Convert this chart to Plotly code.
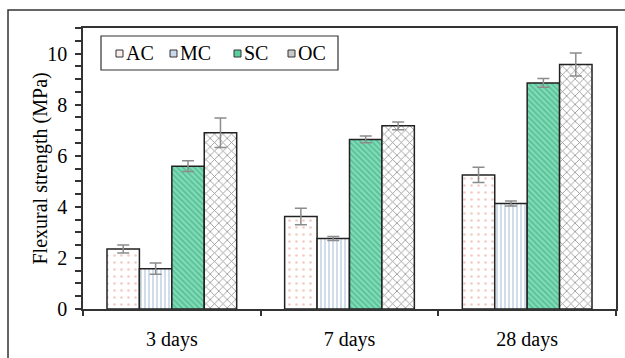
import plotly.graph_objects as go

categories = ["3 days", "7 days", "28 days"]
series_names = ["AC", "MC", "SC", "OC"]
AC = [2.35, 3.62, 5.25]
MC = [1.58, 2.76, 4.13]
SC = [5.59, 6.64, 8.85]
OC = [6.90, 7.17, 9.57]
AC_err = [0.16, 0.32, 0.30]
MC_err = [0.22, 0.08, 0.10]
SC_err = [0.21, 0.13, 0.17]
OC_err = [0.58, 0.15, 0.45]

values = [AC, MC, SC, OC]
errors = [AC_err, MC_err, SC_err, OC_err]

styles = [
    dict(color="white", pattern=dict(shape=".", fgcolor="#e59a8a", bgcolor="white", size=7, solidity=0.12)),
    dict(color="white", pattern=dict(shape="|", fgcolor="#7d9ec8", bgcolor="white", size=4, solidity=0.35)),
    dict(color="#5ccf9f", pattern=dict(shape="\\", fgcolor="#2f9f74", bgcolor="#7fdcb6", size=4, solidity=0.4)),
    dict(color="white", pattern=dict(shape="x", fgcolor="#222222", bgcolor="white", size=6, solidity=0.25)),
]
icon_fill = ["#fbeeea", "#c9d8ea", "#5ccf9f", "#c8c8c8"]

FONT = "Liberation Serif"

fig = go.Figure()
for name, v, e, st in zip(series_names, values, errors, styles):
    fig.add_trace(go.Bar(
        x=categories, y=v, name=name,
        marker=dict(color=st["color"], pattern=st["pattern"],
                    line=dict(color="#222222", width=1.5)),
        error_y=dict(type="data", array=e, visible=True, color="#8c8c8c",
                     thickness=1.5, width=6),
        showlegend=False,
    ))

fig.update_layout(
    width=625, height=358,
    margin=dict(l=83, r=9, t=28, b=49, autoexpand=False),
    paper_bgcolor="white", plot_bgcolor="white",
    barmode="group", bargap=0.27, bargroupgap=0,
    font=dict(family=FONT, size=20, color="black"),
)
fig.update_xaxes(
    automargin=False,
    showline=True, linecolor="#333333", linewidth=1.5, mirror=True,
    ticks="outside", ticklen=5, tickcolor="#333333", tickwidth=1.5,
    tickson="boundaries", showgrid=False, ticklabelstandoff=11,
    tickfont=dict(family=FONT, size=20, color="black"),
)
fig.update_yaxes(
    automargin=False,
    range=[0, 11], dtick=2, tick0=0,
    showline=True, linecolor="#333333", linewidth=1.5, mirror=True,
    ticks="outside", ticklen=6, tickcolor="#333333", tickwidth=1.5,
    minor=dict(dtick=0.5, ticks="outside", ticklen=6, tickcolor="#333333", tickwidth=1.5, showgrid=False),
    showgrid=False, zeroline=False, ticklabelstandoff=4,
    tickfont=dict(family=FONT, size=20, color="black"),
)

# y-axis title (placed as annotation to sit close to the tick labels)
fig.add_annotation(xref="paper", yref="paper", x=(40 - 83) / 533, y=0.5,
                   text="Flexural strength (MPa)", textangle=-90, showarrow=False,
                   xanchor="center", yanchor="middle",
                   font=dict(family=FONT, size=20, color="black"))

# outer frame
fig.add_shape(type="rect", xref="paper", yref="paper",
              x0=-0.1407, x1=1.1, y0=-0.3, y1=1.064,
              line=dict(color="#333333", width=1.5), layer="above")

# custom compact legend
lx0, lx1, ly0, ly1 = (101 - 83) / 533, (338 - 83) / 533, (309 - 70) / 281, (309 - 36) / 281
fig.add_shape(type="rect", xref="paper", yref="paper", x0=lx0, x1=lx1, y0=ly0, y1=ly1,
              line=dict(color="#333333", width=1.2), fillcolor="white", layer="above")
icon_px = [116, 170, 234, 288]
for name, fill, ipx in zip(series_names, icon_fill, icon_px):
    cx0 = (ipx - 83) / 533
    cx1 = (ipx + 7 - 83) / 533
    cy0 = (309 - 57) / 281
    cy1 = (309 - 50) / 281
    fig.add_shape(type="rect", xref="paper", yref="paper", x0=cx0, x1=cx1, y0=cy0, y1=cy1,
                  line=dict(color="#333333", width=1), fillcolor=fill, layer="above")
    fig.add_annotation(xref="paper", yref="paper", x=(ipx + 8 - 83) / 533, y=(309 - 53) / 281,
                       text=name, showarrow=False, xanchor="left", yanchor="middle",
                       font=dict(family=FONT, size=20, color="black"))

fig.write_html("out.html")
